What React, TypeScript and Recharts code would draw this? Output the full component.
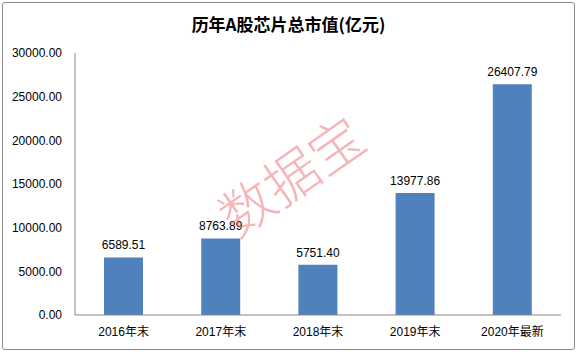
import React from 'react';
import { BarChart, Bar, XAxis, YAxis, LabelList } from 'recharts';

const categories = ['2016年末', '2017年末', '2018年末', '2019年末', '2020年最新'];
const values = [6589.51, 8763.89, 5751.4, 13977.86, 26407.79];
const yTicks = [0, 5000, 10000, 15000, 20000, 25000, 30000];

const data = categories.map((c, i) => ({ name: c, value: values[i] }));

const FONT = '"Liberation Sans", "Noto Sans CJK SC", sans-serif';

export default function App() {
  return (
    <div style={{ position: 'absolute', left: 0, top: 0, width: 577, height: 352, background: '#fff', fontFamily: FONT }}>
      <div style={{ position: 'absolute', left: 2, top: 2, width: 571, height: 346, border: '1px solid #8a8a8a', borderRadius: 3 }} />
      <div style={{ position: 'absolute', left: 0, top: 12, width: 577, textAlign: 'center', fontSize: 17, fontWeight: 'bold', fontFamily: '"Noto Sans CJK SC", sans-serif', color: '#000', lineHeight: '24px' }}>
        历年A股芯片总市值(亿元)
      </div>
      <div style={{ position: 'absolute', left: 0, top: 0 }}>
        <BarChart width={577} height={352} data={data} margin={{ top: 53, right: 16, bottom: 0, left: 0 }} barCategoryGap="30%">
          <YAxis
            width={75}
            domain={[0, 30000]}
            ticks={yTicks}
            tickFormatter={(v: number) => v.toFixed(2)}
            axisLine={{ stroke: '#868686' }}
            tickLine={false}
            tickSize={0}
            tickMargin={13}
            tick={{ fill: '#000', fontSize: 12, fontFamily: FONT }}
            interval={0}
          />
          <XAxis
            dataKey="name"
            height={37}
            axisLine={{ stroke: '#868686' }}
            tickLine={false}
            tickSize={0}
            tickMargin={12}
            tick={{ fill: '#000', fontSize: 12, fontFamily: FONT }}
            interval={0}
          />
          <Bar dataKey="value" fill="#4F81BD" barSize={39} isAnimationActive={false}>
            <LabelList dataKey="value" position="top" offset={8} formatter={(v: number) => Number(v).toFixed(2)} style={{ fill: '#000', fontSize: 12, fontFamily: FONT }} />
          </Bar>
        </BarChart>
      </div>
      <div style={{ position: 'absolute', left: 185, top: 144, width: 210, textAlign: 'center', fontSize: 54, lineHeight: '60px', fontWeight: 300, color: 'rgba(238,110,115,0.5)', fontFamily: '"Noto Sans CJK SC", sans-serif', transform: 'rotate(-35deg)', transformOrigin: 'center center', pointerEvents: 'none' }}>
        数据宝
      </div>
    </div>
  );
}
